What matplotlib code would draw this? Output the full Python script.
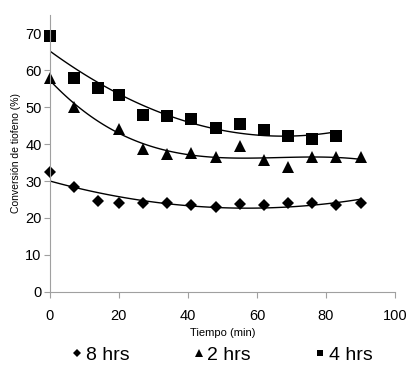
import matplotlib.pyplot as plt
import numpy as np

plt.rcParams['font.family'] = ['Liberation Sans', 'DejaVu Sans']

# tiempo (min)
t_8h = [0, 7, 14, 20, 27, 34, 41, 48, 55, 62, 69, 76, 83, 90]
conv_8h = [32.5, 28.5, 24.5, 24, 24, 24, 23.5, 23, 23.7, 23.5, 24, 24, 23.5, 24]

t_2h = [0, 7, 20, 27, 34, 41, 48, 55, 62, 69, 76, 83, 90]
conv_2h = [58, 50, 44, 38.8, 37.3, 37.7, 36.5, 39.4, 35.8, 33.8, 36.5, 36.5, 36.4]

t_4h = [0, 7, 14, 20, 27, 34, 41, 48, 55, 62, 69, 76, 83]
conv_4h = [69.3, 57.9, 55.2, 53.2, 48, 47.5, 46.9, 44.3, 45.5, 43.9, 42.1, 41.5, 42.3]

# (etiqueta, x, y, marcador, tamano, orden de la tendencia)
series = [
    ('8 hrs', t_8h, conv_8h, 'D', 6.5, 2),
    ('2 hrs', t_2h, conv_2h, '^', 8.5, 3),
    ('4 hrs', t_4h, conv_4h, 's', 8, 2),
]

fig = plt.figure(figsize=(4.12, 3.81), dpi=100)
ax = fig.add_axes([0.121, 0.234, 0.838, 0.727])

for label, t, c, m, ms, order in series:
    ax.plot(t, c, linestyle='none', marker=m, markersize=ms, color='black',
            label=label, markeredgewidth=0, clip_on=False)
    # linea de tendencia polinomica
    coef = np.polyfit(t, c, order)
    xx = np.linspace(min(t), max(t), 100)
    ax.plot(xx, np.polyval(coef, xx), color='black', linewidth=1)

ax.set_xlim(0, 100)
ax.set_ylim(0, 75)
ax.set_xticks(np.arange(0, 101, 20))
ax.set_yticks(np.arange(0, 71, 10))

for s in ['top', 'right']:
    ax.spines[s].set_visible(False)
for s in ['left', 'bottom']:
    ax.spines[s].set_color('#a0a0a0')
ax.tick_params(direction='out', length=4, color='#a0a0a0', labelsize=10.5)
ax.tick_params(axis='x', pad=8)
ax.tick_params(axis='y', pad=2)

ax.set_xlabel('Tiempo (min)', fontsize=8, labelpad=4)
ax.set_ylabel('Conversión de tiofeno (%)', fontsize=7.5, labelpad=3)

handles, labels = ax.get_legend_handles_labels()
fig.legend(handles, labels, loc='center', bbox_to_anchor=(0.54, 0.068),
           ncol=3, frameon=False, fontsize=14, markerscale=0.6,
           handlelength=0.5, handletextpad=0.2, columnspacing=3.3)

fig.savefig('out.png', dpi=100)
